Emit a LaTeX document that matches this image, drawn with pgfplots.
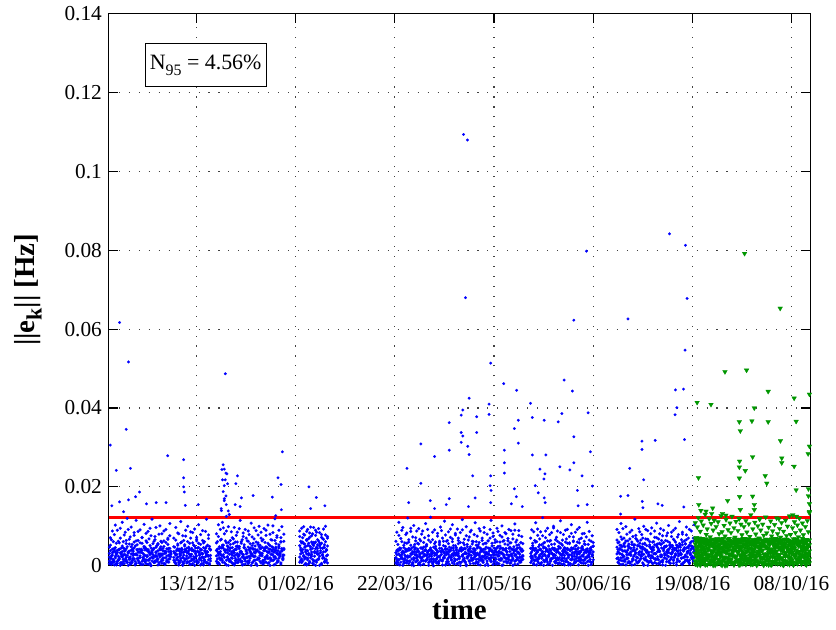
\documentclass[border=0pt]{standalone}
\usepackage{fontspec}
\setmainfont{Liberation Serif}
\usepackage{pgfplots}
\usepackage{pgfplotstable}
\pgfplotsset{compat=1.18}
\definecolor{mgreen}{RGB}{0,150,0}
% x: half-days from 13/12/15 ; y: 1e-4 Hz
\pgfplotstableread{
x a b c d e
-88 12 31 5 47 22
-87 38 7 52 18 71
-86 3 25 19 66 9
-85 27 42 33 8 88
-84 9 16 61 35 14
-83 44 2 11 79 40
-82 20 35 46 24 103
-81 6 28 2 57 31
-80 33 11 39 90 6
-79 15 40 24 13 62
-78 41 19 58 42 17
-77 1 33 7 70 95
-76 24 8 31 29 45
-75 36 22 50 4 110
-74 10 45 16 61 26
-73 29 5 43 37 78
-72 17 38 27 85 12
-71 43 14 64 21 56
-70 8 26 9 48 120
-69 32 1 35 92 34
-68 21 37 55 16 67
-67 4 18 22 73 8
-66 39 30 48 5 98
-65 13 9 13 54 41
-64 26 44 37 31 19
-63 45 17 60 77 84
-62 2 29 4 11 50
-61 30 6 29 63 115
-60 18 41 53 40 27
-59 35 13 18 87 64
-58 7 34 42 20 9
-57 25 21 6 58 91
-56 42 3 34 34 38
-55 11 39 57 71 72
-54 31 15 20 3 21
-53 16 27 45 49 105
-52 40 10 10 26 47
-51 5 43 63 82 15
-50 23 24 26 39 59
-49 37 4 41 14 87
-48 14 36 15 68 33
-47 28 19 51 95 6
-46 0 32 1 45 76
-45 34 12 38 22 118
-44 19 40 28 56 42
-43 44 8 62 9 24
-42 9 23 12 74 66
-41 26 35 47 33 97
-40 12 16 23 51 13
-39 38 2 56 17 54
-38 3 29 8 80 30
-37 22 44 40 27 101
-36 41 11 30 62 48
-35 15 26 59 6 81
-34 30 38 14 44 19
-33 6 20 49 88 63
-32 35 5 3 31 37
-31 20 33 36 59 92
-30 43 14 25 10 11
-29 10 42 54 67 70
-28 27 9 17 36 44
-27 17 24 44 76 107
-26 32 37 32 23 29
-23 14 36 21 48 70
-22 31 8 47 12 33
-21 5 27 6 65 97
-20 40 19 38 29 15
-19 22 43 55 83 52
-18 9 2 13 40 81
-17 36 30 42 7 24
-16 18 13 27 58 112
-15 44 38 60 33 41
-14 1 21 3 76 9
-13 27 6 34 19 64
-12 12 41 50 53 36
-11 39 16 17 90 75
-10 7 34 44 25 18
-9 33 10 9 61 100
-8 20 45 31 38 47
-7 42 4 57 11 28
-6 3 28 24 70 86
-5 29 17 39 44 13
-4 16 39 5 84 58
-3 37 23 52 16 39
-2 10 1 19 50 93
-1 45 32 36 30 22
0 25 14 63 72 67
1 6 37 11 9 45
2 34 9 46 57 104
3 19 26 28 35 16
4 41 42 2 79 54
5 13 5 40 21 31
6 30 31 22 64 89
7 2 20 58 46 7
8 38 12 15 13 61
9 23 44 33 87 37
10 8 7 49 28 118
11 35 35 7 52 25
12 15 24 26 69 78
13 43 3 43 5 49
14 26 40 18 41 12
20 11 39 25 58 81
21 42 6 61 17 36
22 27 31 8 74 104
23 4 48 44 33 20
24 36 15 30 92 65
25 18 26 67 45 140
26 47 9 14 110 52
27 23 44 52 28 96
28 8 21 39 81 170
29 40 34 5 63 38
30 14 2 58 125 88
31 33 50 22 41 23
32 1 17 47 99 59
33 29 38 11 15 130
34 45 12 64 54 44
35 20 29 35 86 9
36 6 46 19 27 71
37 38 5 56 68 33
38 25 33 2 39 97
39 13 19 42 7 60
40 49 41 28 77 14
41 31 8 60 50 85
42 9 27 16 23 46
43 43 49 48 94 27
44 17 13 33 36 115
45 35 36 9 61 57
46 2 22 66 11 30
47 28 3 24 83 74
48 46 45 53 47 18
49 12 18 4 20 92
50 37 30 40 70 40
51 22 10 20 32 63
52 5 47 62 88 11
53 41 24 13 9 79
54 19 37 45 56 35
55 30 1 31 25 108
56 44 28 7 73 51
57 10 43 57 42 24
58 34 14 23 96 68
59 24 32 50 14 41
60 3 6 36 60 89
61 39 40 1 37 16
62 16 20 54 78 58
63 48 35 18 19 100
64 26 11 43 52 32
65 7 44 29 85 70
66 32 25 63 30 47
67 14 4 10 66 13
68 45 39 38 8 94
69 21 16 59 44 39
70 9 48 21 90 77
71 36 22 46 24 26
72 18 33 6 57 103
73 42 8 34 35 53
74 1 42 51 80 20
75 29 17 15 13 66
76 40 29 65 48 37
77 13 46 27 101 84
78 34 2 41 22 15
79 23 36 3 64 119
80 47 19 56 39 45
81 8 31 32 76 72
82 38 13 12 10 28
83 19 45 49 53 90
84 31 24 25 29 34
85 4 7 60 71 61
86 43 38 37 43 99
87 15 27 17 18 22
88 27 41 44 62 80
104 22 51 74 9 88
105 45 14 30 62 40
106 8 37 58 95 17
107 33 60 12 41 71
108 56 26 80 23 99
109 17 3 47 78 55
110 40 49 21 35 6
111 2 30 66 87 64
112 51 19 38 15 92
113 27 57 5 69 31
114 11 8 72 50 83
115 48 42 27 98 20
116 35 24 60 29 76
117 6 55 16 81 44
118 59 12 51 4 97
119 24 36 33 57 12
120 43 1 77 90 60
121 14 47 9 32 85
122 53 29 44 66 37
123 30 16 63 18 94
124 1 58 24 84 50
125 38 33 54 45 3
126 57 6 3 72 79
127 19 44 69 26 28
128 46 21 35 93 67
129 9 53 18 11 46
130 36 10 78 61 100
131 25 40 41 39 15
132 50 27 7 74 70
201 21 7 33 62 18
202 4 39 12 28 85
203 37 16 54 9 41
204 15 30 3 77 110
205 43 2 40 45 26
206 9 44 25 18 69
207 28 21 61 90 33
208 1 35 17 37 97
209 33 10 46 6 52
210 18 27 8 58 14
211 40 42 36 24 79
212 7 13 57 83 39
213 25 38 21 12 121
214 44 5 43 66 60
215 12 24 10 40 23
216 30 41 52 95 87
217 2 17 29 31 45
218 36 33 6 73 8
219 20 0 48 15 102
220 42 29 19 54 36
221 10 45 63 27 71
222 27 11 34 88 19
223 38 23 14 42 57
224 6 36 55 3 94
225 23 8 27 67 30
226 45 31 2 20 63
227 14 19 45 80 12
228 32 43 22 35 88
229 3 4 59 13 47
230 29 26 38 71 25
231 41 39 11 49 107
232 16 14 50 26 54
233 35 34 30 92 20
234 8 1 65 38 76
235 24 28 15 10 40
236 39 45 41 60 123
237 11 18 24 30 33
238 31 37 5 85 66
239 0 9 47 17 15
240 26 32 32 56 91
241 43 12 60 44 49
242 17 40 18 7 28
243 34 22 37 75 82
244 5 6 9 23 11
245 22 44 53 62 58
246 37 15 26 36 98
247 13 29 44 89 35
248 40 2 12 14 70
249 19 36 62 51 21
250 31 25 20 33 113
251 2 41 49 78 44
252 28 10 35 5 62
253 42 33 7 64 16
254 10 20 56 29 86
255 36 3 23 47 39
256 21 38 40 93 72
257 45 16 14 21 27
258 7 30 61 68 104
259 25 45 28 39 51
260 33 11 4 11 18
261 15 27 51 82 78
262 39 42 33 46 30
263 4 6 16 26 93
264 30 35 64 70 56
265 18 22 39 9 23
266 44 1 8 59 84
267 9 39 46 37 42
268 27 24 25 91 117
269 41 13 58 16 29
270 14 44 19 53 67
271 34 8 43 31 10
272 0 31 3 76 99
273 23 19 54 22 48
274 38 40 31 65 24
275 11 28 13 43 73
276 43 5 48 86 35
277 20 36 26 14 90
278 35 14 62 55 17
279 6 43 16 33 61
280 29 21 37 79 43
281 40 32 6 25 109
282 16 9 52 61 26
283 32 45 30 8 75
284 3 17 9 48 53
285 26 29 59 94 14
286 45 2 21 34 88
287 13 38 42 17 40
288 37 24 15 70 64
289 8 12 55 41 22
290 24 42 34 84 97
291 42 18 1 27 57
292 19 34 47 57 31
293 31 6 23 12 80
294 1 30 63 63 45
295 28 44 18 36 19
296 44 15 40 92 70
297 12 26 10 20 115
298 36 39 57 50 37
299 21 3 29 74 83
300 9 33 45 29 11
301 39 20 12 66 59
302 17 43 36 4 28
303 34 8 61 45 95
304 5 27 24 87 49
305 25 37 5 32 16
306 43 14 50 60 77
307 14 45 31 19 34
308 32 1 17 73 101
309 2 30 44 40 62
310 27 22 64 10 25
311 41 40 20 55 84
312 18 11 39 81 44
313 35 35 7 28 18
314 10 19 53 63 69
315 23 44 27 15 92
316 45 6 58 47 36
317 7 28 13 89 58
318 30 42 42 24 13
319 19 16 1 68 80
320 38 32 48 38 41
321 11 4 26 90 106
322 28 38 60 13 27
323 43 21 16 52 65
324 4 45 35 33 20
325 33 13 53 77 89
326 20 29 9 22 46
327 40 9 41 59 12
328 15 36 22 42 74
329 26 24 56 16 38
337 8 31 44 70 23
338 35 12 18 25 91
339 22 40 57 51 46
340 44 3 6 86 15
341 13 27 39 14 64
342 29 44 22 60 109
343 2 16 61 33 38
344 38 35 11 93 77
345 17 7 48 21 19
346 41 24 27 68 53
347 6 42 3 40 86
348 31 19 53 8 30
349 24 33 36 76 122
350 45 1 14 48 57
351 10 28 59 28 12
352 36 45 25 88 71
353 19 14 42 16 40
354 3 37 9 63 95
355 27 23 50 35 25
356 42 5 30 79 62
357 14 39 64 11 17
358 33 18 17 54 84
359 1 30 45 29 43
360 25 43 20 96 100
361 39 10 55 44 28
362 11 26 7 19 66
363 34 40 38 72 14
364 20 6 62 37 88
365 43 34 15 5 49
366 7 20 47 58 31
367 30 45 28 84 114
368 16 13 4 26 55
369 37 29 52 65 20
370 4 41 33 12 79
371 26 2 19 46 37
372 44 36 60 90 10
373 12 17 11 31 68
374 32 44 41 57 92
375 21 8 26 2 26
376 40 27 56 74 58
377 5 38 2 39 16
378 28 15 45 82 104
379 17 33 23 23 42
380 45 4 63 61 73
381 9 24 34 15 30
382 35 42 8 50 85
383 23 11 51 36 18
384 42 30 29 92 60
385 2 45 13 20 35
386 30 19 58 67 97
387 14 34 37 9 22
388 38 7 16 45 70
389 26 25 49 81 45
390 6 41 24 28 13
391 33 14 62 55 82
392 19 37 6 17 54
393 41 22 40 73 33
394 10 43 21 40 110
395 36 1 54 12 26
396 22 29 32 87 65
397 44 16 10 34 39
398 3 40 47 62 8
399 29 9 27 24 76
400 15 35 59 49 50
424 18 47 30 65 92
425 41 9 58 20 35
426 6 33 15 84 60
427 30 52 44 41 14
428 52 20 3 73 107
429 13 40 67 29 48
430 37 4 26 94 21
431 24 55 50 12 70
432 48 16 11 58 38
433 2 36 63 35 99
434 34 28 20 80 17
435 19 50 40 7 63
436 45 11 55 49 29
437 9 31 6 68 85
438 28 44 35 26 44
439 54 2 60 90 11
440 15 38 18 16 74
441 40 24 46 53 52
442 3 53 28 38 118
443 32 14 69 77 33
444 21 42 9 22 66
445 50 7 52 62 20
446 11 29 33 10 94
447 36 49 14 86 57
448 25 18 65 45 26
449 47 35 24 30 79
450 7 55 47 70 42
451 29 3 1 18 100
452 43 41 57 55 15
453 16 22 38 92 68
454 39 51 12 33 35
455 1 12 66 67 89
456 26 34 29 8 24
457 53 26 49 48 61
458 12 45 19 81 12
459 35 8 42 25 96
460 22 39 5 60 47
461 46 19 61 40 30
462 8 53 31 88 72
463 31 30 16 15 18
464 50 5 54 71 108
465 17 46 23 36 55
466 42 15 68 6 37
467 4 37 36 57 81
468 27 54 10 94 23
469 55 23 45 27 64
470 14 9 2 76 13
471 38 43 59 43 90
472 20 31 27 20 49
473 49 1 48 64 28
474 10 50 17 35 76
475 33 25 62 83 40
476 23 40 34 11 102
477 44 13 7 52 59
478 6 48 53 31 16
479 30 20 22 74 85
480 51 36 41 47 33
481 15 6 13 90 67
482 40 44 64 24 21
483 26 27 30 60 95
484 2 52 8 39 45
485 36 17 51 14 73
486 47 38 25 79 30
487 11 11 56 50 112
488 32 47 39 28 54
489 19 29 4 66 19
490 53 3 60 85 80
491 8 41 21 37 41
492 41 22 46 9 63
493 24 55 14 56 27
494 45 14 66 78 98
495 13 33 32 22 36
496 37 49 10 45 70
497 5 8 52 92 14
498 29 39 28 32 58
499 50 21 43 61 88
500 18 45 19 18 24
501 34 12 62 70 47
502 21 32 37 41 104
}\bluedata
\pgfplotstableread{
x y
-87.1 306
-77.7 617
-68.7 517
-71 346
-81 242
-66.7 247
-29.2 279
-13.1 269
-13.1 223
-13.1 200
-12.4 187
-11.4 153
-85.5 152
-77.7 162
-68.7 167
-57.6 187
-61.6 175
-73.7 137
-50.6 157
-40.8 160
-30.8 160
1.7 155
28.9 487
26.8 256
25.5 244
27.9 245
29.6 235
30.6 233
26.1 218
28.9 218
31.2 208
27.9 203
26.8 188
29.6 177
27.9 165
29.9 155
24.8 145
31.9 139
41.2 228
39.6 208
45.2 172
57 178
38.9 155
43.9 150
86.5 289
82.1 223
85.2 206
76.4 174
85.5 142
79.8 127
113.3 200
120.7 173
129.4 152
115 145
212.2 247
226.2 309
226.2 209
213.9 160
235.7 165
240 277
240 145
251.8 155
254.8 363
254.8 293
254.8 170
266.9 382
268.5 395
266.9 338
268.5 329
266.9 313
273.5 303
274.9 282
274.9 425
282.5 378
282.5 338
278.5 228
280.9 172
274.2 150
295 410
295 384
296.6 228
296 203
297 191
296.6 160
309.7 462
322.8 445
310.4 293
310.4 261
310.4 235
324.5 369
320.5 348
324.5 311
320.5 195
322.5 175
328.5 150
317.5 157
269.2 1094
273.2 1080
271.2 680
296.6 514
336.8 412
338.6 376
338.6 281
346.3 245
350.6 369
352.3 281
351.3 233
350.3 220
341.6 203
344.6 185
350.6 172
351.6 160
370.7 471
379 443
364.7 365
368.4 386
366.4 251
376.5 243
380.5 327
380.5 261
388.8 228
384.1 191
394.9 388
397.2 289
399.2 202
393.9 155
384.8 152
380.5 623
393.2 798
436.8 247
449.2 316
449.2 295
450.9 218
462.5 318
427.7 176
435.1 178
449.5 163
469.6 153
483 446
491.1 448
484.4 401
482.6 383
492.1 320
450.2 147
491.4 149
427.7 131
477 842
493.1 813
494.7 678
435.1 626
492.7 547
465.3 157
}\blueout
\pgfplotstableread{
x a b c d e f
503 12 55 31 68 4 109
504 47 23 60 8 39 71
505 30 66 2 45 21 98
506 5 38 50 17 62 122
507 58 14 25 70 33 61
508 21 49 67 1 52 87
509 40 7 13 57 26 113
510 63 31 44 24 69 51
511 16 60 6 41 10 103
512 35 19 58 66 47 67
513 2 42 29 12 18 130
514 52 68 53 35 59 79
515 27 3 18 62 3 93
516 44 27 40 20 44 57
517 9 52 64 49 27 119
518 61 15 9 5 65 73
519 23 64 36 58 13 107
520 38 34 57 30 50 54
521 1 10 22 67 36 90
522 56 47 47 14 7 115
523 18 22 1 43 57 63
524 67 58 33 27 23 99
525 31 5 68 61 68 49
526 48 37 15 9 40 111
527 7 63 51 52 16 81
528 42 25 27 34 54 68
529 25 9 62 3 31 127
530 59 44 11 65 1 86
531 14 69 39 22 46 59
532 36 18 56 48 63 102
533 0 50 20 10 20 75
534 53 32 46 59 37 117
535 20 1 4 37 8 54
536 45 56 65 18 66 91
537 11 40 30 64 28 69
538 64 12 52 29 49 108
539 28 61 17 6 14 84
540 39 28 38 55 61 125
541 6 46 61 25 35 60
542 57 6 8 68 2 96
543 22 66 43 40 53 72
544 50 21 24 11 25 112
545 15 53 59 50 67 56
546 33 36 14 33 11 89
547 62 2 49 63 43 120
548 8 48 28 2 58 66
549 43 16 66 46 22 105
550 26 62 5 20 38 78
551 55 30 35 69 5 50
552 17 11 55 31 64 99
553 68 45 23 15 30 69
554 3 24 63 54 51 114
555 37 59 10 36 17 85
556 49 8 41 8 68 60
557 13 67 19 60 41 106
558 60 33 54 26 9 74
559 24 19 3 44 56 129
560 41 52 32 13 24 63
561 4 4 60 66 62 93
562 54 41 26 39 34 53
563 19 60 48 7 12 110
564 65 26 12 56 48 80
565 32 12 67 23 1 58
566 10 49 37 61 66 101
567 46 35 6 32 29 70
568 26 68 44 9 55 118
569 58 17 57 47 21 90
570 7 39 21 64 39 49
571 39 55 64 18 6 105
572 21 1 30 52 60 77
573 63 29 9 28 26 61
574 14 64 50 67 46 123
575 47 22 25 4 15 83
576 30 44 59 42 65 66
577 2 10 16 58 33 97
578 56 57 40 21 53 56
579 23 31 63 35 3 113
580 42 68 2 11 42 75
581 11 6 34 62 22 88
582 67 38 55 30 59 51
583 34 23 11 48 10 104
584 17 65 45 6 68 69
585 51 14 29 54 36 121
586 5 50 62 25 18 81
587 44 27 20 68 57 59
588 28 61 47 16 28 94
589 60 4 7 40 6 72
590 19 43 53 60 64 109
591 38 20 36 3 45 55
592 1 58 13 46 13 87
593 55 34 67 26 50 65
594 25 9 24 57 31 115
595 45 66 48 12 67 76
596 9 25 5 65 8 100
597 64 52 42 36 40 60
598 31 3 61 19 61 126
599 16 39 18 50 23 79
600 50 63 33 8 55 52
601 35 15 56 44 35 96
602 2 47 9 61 2 68
603 57 29 44 24 48 111
604 22 67 28 68 27 84
605 40 7 65 33 66 57
606 12 54 14 5 16 103
607 61 36 51 53 58 73
608 29 18 22 17 34 120
609 48 62 60 63 11 90
610 6 21 4 28 51 62
611 36 49 39 45 69 108
612 66 11 57 10 24 78
613 20 59 26 59 44 54
614 43 32 46 38 4 99
615 15 2 8 66 62 66
616 53 44 63 21 30 114
617 27 24 31 49 14 86
618 37 65 17 7 53 134
}\greendata
\pgfplotstableread{
x y
504.8 414
518.8 409
576.5 442
602.7 425
618.1 435
562.5 400
547.4 365
548.4 342
560.1 367
576.5 365
604.7 366
588.9 317
547.7 265
547.4 250
553.4 241
560.8 276
590.2 273
590.2 261
602.7 252
618.1 303
616.8 284
506.2 223
547.4 222
573.5 228
575.1 209
604.7 192
617.1 195
617.1 177
618.1 157
618.1 137
547.7 175
560.8 176
535.6 165
506.5 155
520.5 146
548.4 142
562.5 155
562.5 142
513.8 138
519.5 132
533.9 128
547.4 119
605 125
530.4 132
508.6 140
587.3 119
601.3 129
567.7 119
552.7 792
588.6 653
532.9 492
554.7 496
552.7 1401
}\greenout
\begin{document}
\begin{tikzpicture}
\begin{axis}[
  width=352pt, height=277pt, scale only axis,
  xmin=-88.5, xmax=618.8, ymin=0, ymax=1400,
  xtick={0,100,200,300,400,500,600},
  xticklabels={13/12/15,01/02/16,22/03/16,11/05/16,30/06/16,19/08/16,08/10/16},
  ytick={0,200,400,600,800,1000,1200,1400},
  yticklabels={0,0.02,0.04,0.06,0.08,0.1,0.12,0.14},
  tick align=inside, major tick length=4.5pt,
  tick style={black, line width=0.6pt},
  axis line style={line width=0.6pt},
  grid=major,
  major grid style={black!75, line width=0.55pt, dash pattern=on 0.55pt off 4.45pt},
  ticklabel style={font=\fontsize{10.7}{12}\selectfont},
  xticklabel style={yshift=-2pt},
  xlabel={time},
  ylabel={||e\raisebox{-0.55ex}{\fontsize{11}{12}\selectfont k}|| [Hz]},
  xlabel style={font=\fontsize{14.5}{16}\selectfont\bfseries, at={(axis description cs:0.5,-0.0982)}, anchor=base},
  ylabel style={font=\fontsize{14.5}{16}\selectfont\bfseries, at={(axis description cs:-0.1153,0.5)}, anchor=center},
]
\foreach \c in {a,b,c,d,e}{
  \addplot[only marks, mark=*, mark size=0.74pt, color=blue, mark options={line width=0.1pt}] table[x=x, y=\c] {\bluedata};
}
\addplot[only marks, mark=*, mark size=0.68pt, color=blue, mark options={line width=0.1pt}] table[x=x, y=y] {\blueout};
\foreach \c in {a,b,c,d,e,f}{
  \addplot[only marks, mark=triangle*, mark size=1.35pt, color=mgreen, mark options={rotate=180, line width=0.15pt}] table[x=x, y=\c] {\greendata};
}
\addplot[only marks, mark=triangle*, mark size=1.35pt, color=mgreen, mark options={rotate=180, line width=0.15pt}] table[x=x, y=y] {\greenout};
\addplot[red, line width=1.2pt, mark=none] coordinates {(-88.5,122) (618.8,122)};
\node[draw, fill=white, line width=0.5pt, inner xsep=2.3pt, minimum height=21.5pt, font=\fontsize{11}{13}\selectfont] at (rel axis cs:0.138,0.907) {N\raisebox{-0.55ex}{\fontsize{8}{9}\selectfont 95} = 4.56\%};
\end{axis}
\path ([shift={(-54.65pt,-31.85pt)}]current axis.south west);
\path ([shift={(11.65pt,6.5pt)}]current axis.north east);
\end{tikzpicture}
\end{document}
